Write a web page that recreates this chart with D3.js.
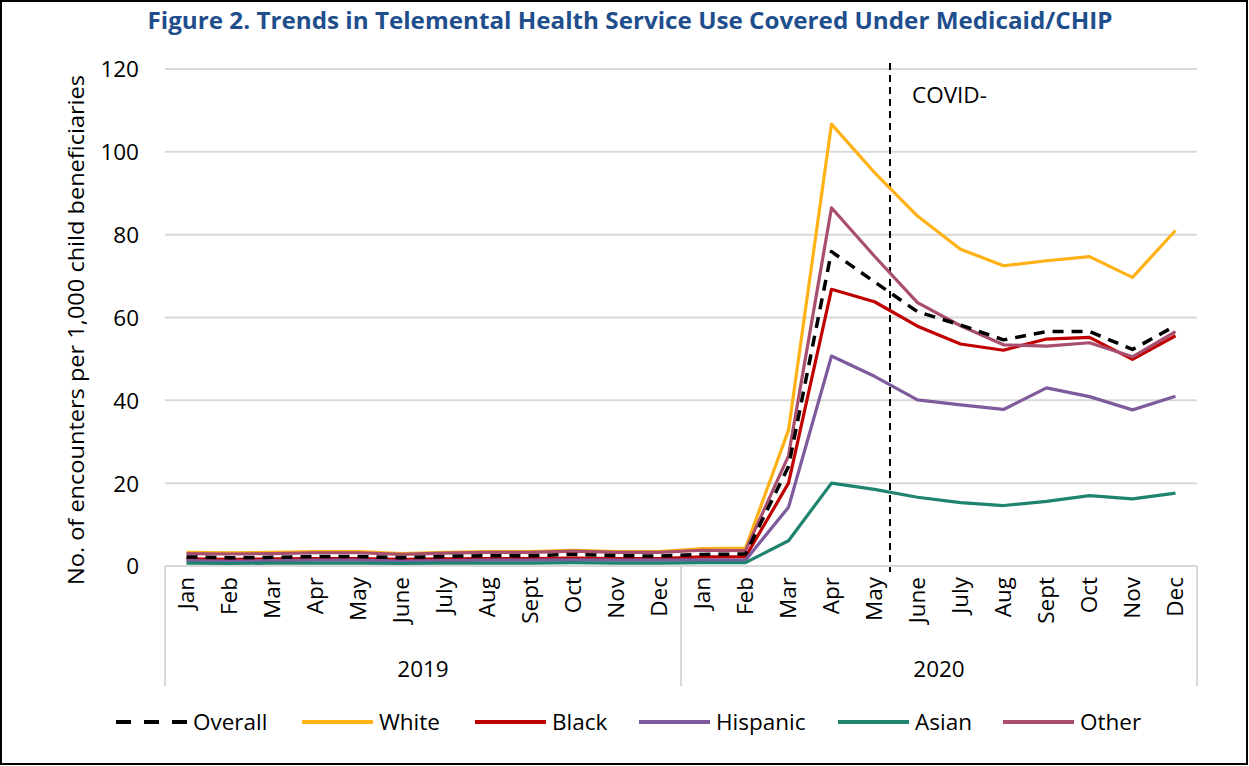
<!DOCTYPE html>
<html><head><meta charset="utf-8">
<script src="https://cdn.jsdelivr.net/npm/d3@7"></script>
<style>body{margin:0;background:#fff}svg{display:block}text{font-family:"Open Sans",sans-serif}</style>
</head><body><svg id="c" width="1249" height="766"></svg>
<script>
const months = ["Jan","Feb","Mar","Apr","May","June","July","Aug","Sept","Oct","Nov","Dec"];
const years = ["2019","2020"];
const yTicks = [0,20,40,60,80,100,120];
const overall  = [2.2,2.0,2.1,2.3,2.3,2.0,2.3,2.5,2.5,2.8,2.5,2.4, 2.8,2.9,24,75.9,68.6,61.4,58.2,54.6,56.6,56.6,52.3,58];
const white    = [3.3,3.2,3.3,3.5,3.5,3.0,3.3,3.5,3.5,3.8,3.5,3.5, 4.2,4.3,32.8,106.7,95,84.5,76.5,72.5,73.7,74.7,69.7,81];
const black    = [1.7,1.6,1.7,1.8,1.8,1.6,1.7,1.8,1.8,1.9,1.8,1.8, 2.2,2.2,20,66.8,63.8,57.9,53.6,52.1,54.8,55.2,49.9,55.6];
const hispanic = [1.3,1.2,1.3,1.4,1.4,1.2,1.3,1.4,1.4,1.5,1.4,1.4, 1.5,1.4,14.2,50.7,45.8,40.1,38.9,37.8,43.0,40.9,37.7,41.0];
const asian    = [0.7,0.6,0.7,0.7,0.7,0.6,0.7,0.7,0.7,0.8,0.7,0.7, 0.8,0.8,6.1,20,18.5,16.6,15.3,14.6,15.6,17.0,16.2,17.6];
const other    = [3.0,2.9,3.0,3.2,3.2,2.8,3.1,3.3,3.3,3.6,3.3,3.3, 3.8,3.7,26.6,86.5,74.8,63.6,58,53.4,53.1,53.9,50.5,56.6];
const seriesNames = ["Overall","White","Black","Hispanic","Asian","Other"];
const seriesColors = ["#000000","#FFB115","#C00000","#7E5B9C","#1E8470","#A84E6E"];
const covidLabel = "COVID-";
const covidAfterIndex = 16; // line between May 2020 and June 2020

const cats = [];
years.forEach(y => months.forEach(m => cats.push(y + "-" + m)));
const seriesData = [overall, white, black, hispanic, asian, other];
const FS = 22.5;

const svg = d3.select("#c");
svg.append("rect").attr("x",1).attr("y",1).attr("width",1246).attr("height",763)
  .attr("fill","#fff").attr("stroke","#000").attr("stroke-width",2);

svg.append("text").attr("x",630).attr("y",29).attr("text-anchor","middle")
  .attr("font-size",23).attr("font-weight","bold").attr("fill","#1F4E8C")
  .attr("textLength",965).attr("lengthAdjust","spacingAndGlyphs")
  .text("Figure 2. Trends in Telemental Health Service Use Covered Under Medicaid/CHIP");

const L = 165, R = 1197, T = 69, B = 566;
const x = d3.scaleBand().domain(cats).range([L,R]);
const y = d3.scaleLinear().domain([0,120]).range([B,T]);
const cx = c => x(c) + x.bandwidth()/2;

// gridlines
svg.append("g").selectAll("line").data(yTicks).join("line")
  .attr("x1",L).attr("x2",R).attr("y1",d=>y(d)).attr("y2",d=>y(d))
  .attr("stroke","#d9d9d9").attr("stroke-width",2);

// y axis labels
const yAxis = d3.axisLeft(y).tickValues(yTicks).tickSize(0).tickPadding(0);
const yg = svg.append("g").attr("transform",`translate(${L-26},0)`).call(yAxis);
yg.select(".domain").remove();
yg.selectAll("text").attr("font-size",FS).attr("fill","#000").attr("font-family","Open Sans").attr("dy","0.35em");

svg.append("text").attr("transform",`translate(84,${(75+585)/2}) rotate(-90)`)
  .attr("text-anchor","middle").attr("font-size",22)
  .attr("textLength",510).attr("lengthAdjust","spacingAndGlyphs")
  .text("No. of encounters per 1,000 child beneficiaries");

// x axis month labels
const xg = svg.append("g");
xg.selectAll("text").data(cats).join("text")
  .attr("transform",d=>`translate(${cx(d)},${B+11}) rotate(-90)`)
  .attr("text-anchor","end").attr("dy","0.35em").attr("font-size",FS).text(d=>d.split("-")[1]);
// group separators
const seps = [x(cats[0]), x(cats[12]), R];
xg.selectAll("line").data(seps).join("line")
  .attr("x1",d=>d).attr("x2",d=>d).attr("y1",B).attr("y2",686)
  .attr("stroke","#d9d9d9").attr("stroke-width",2);
svg.append("g").selectAll("text").data(years).join("text")
  .attr("x",(d,i)=> (x(cats[i*12]) + (i===0 ? x(cats[12]) : R))/2)
  .attr("y",677).attr("text-anchor","middle").attr("font-size",FS).text(d=>d);

// covid line
const covX = (cx(cats[covidAfterIndex]) + cx(cats[covidAfterIndex+1]))/2 - 6;
svg.append("line").attr("x1",covX).attr("x2",covX).attr("y1",63).attr("y2",572)
  .attr("stroke","#000").attr("stroke-width",2).attr("stroke-dasharray","7,5");
svg.append("text").attr("x",covX+22).attr("y",103).attr("font-size",FS).text(covidLabel);

// lines
const line = d3.line().x((d,i)=>cx(cats[i])).y(d=>y(d));
const order = [1,2,3,4,5,0];
order.forEach(k => {
  svg.append("path").datum(seriesData[k]).attr("d",line).attr("fill","none")
    .attr("stroke",seriesColors[k]).attr("stroke-width",k===0?3.5:3.2)
    .attr("stroke-linejoin","round")
    .attr("stroke-dasharray",k===0?"11,8":null);
});

// legend
const legX = [116,302,475,639,838,1003];
const lg = svg.append("g");
seriesNames.forEach((n,k)=>{
  lg.append("line").attr("x1",legX[k]).attr("x2",legX[k]+71).attr("y1",722).attr("y2",722)
    .attr("stroke",seriesColors[k]).attr("stroke-width",4)
    .attr("stroke-dasharray",k===0?"15,13":null);
  lg.append("text").attr("x",legX[k]+77).attr("y",722).attr("dy","0.35em")
    .attr("font-size",FS).text(n);
});
</script></body></html>
